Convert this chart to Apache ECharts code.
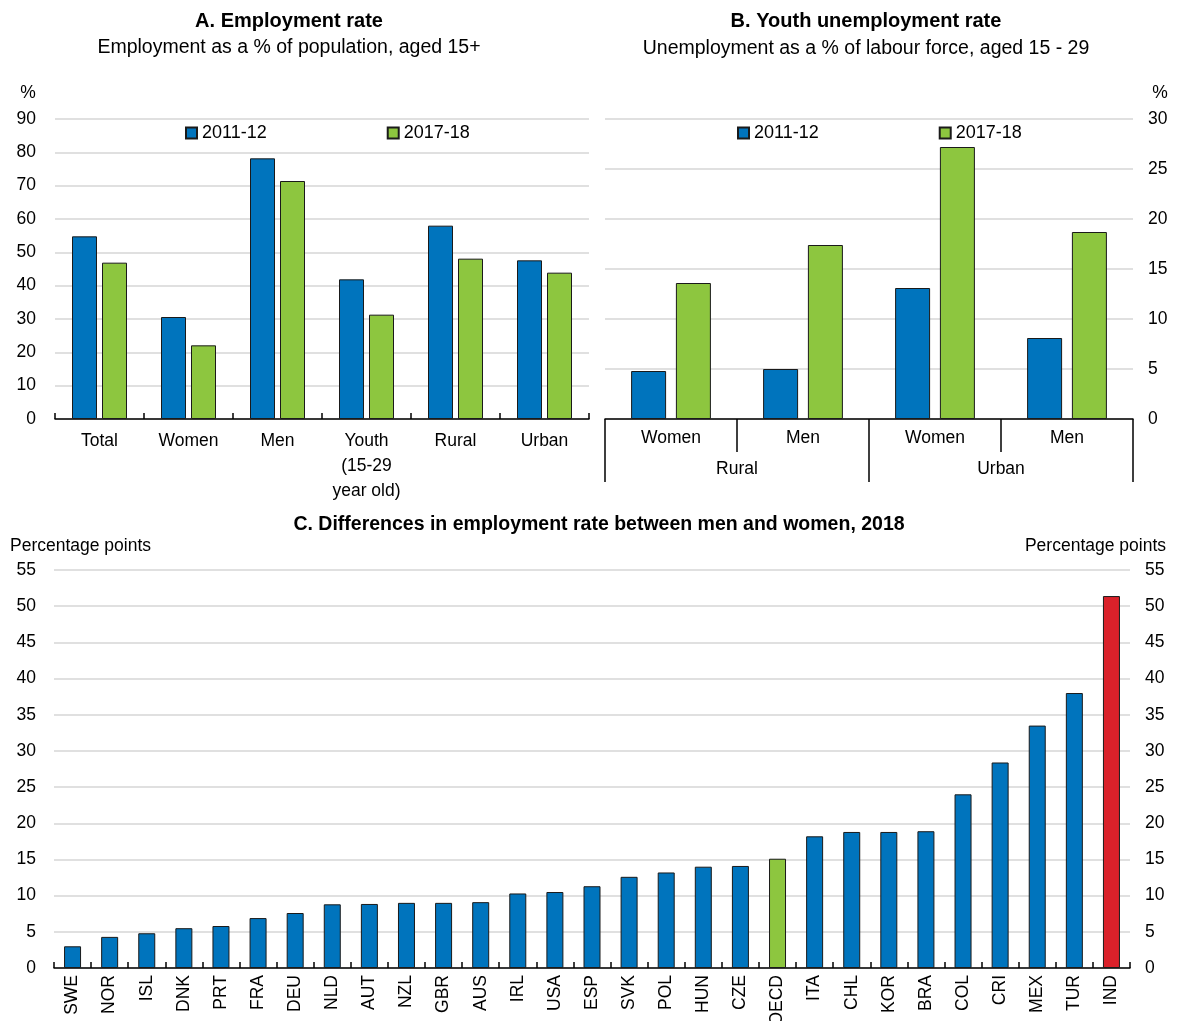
<!DOCTYPE html>
<html>
<head>
<meta charset="utf-8">
<script src="https://cdn.jsdelivr.net/npm/echarts@6/dist/echarts.min.js"></script>
<style>html,body{margin:0;padding:0;background:#fff}#c{width:1177px;height:1021px}</style>
</head>
<body>
<div id="c"></div>
<script>
// ---- Data ----
var seriesNames = ['2011-12', '2017-18'];

var catsA = ['Total', 'Women', 'Men', 'Youth\n(15-29\nyear old)', 'Rural', 'Urban'];
var empl2011 = [54.8, 30.6, 78.2, 41.9, 58.0, 47.6];
var empl2017 = [46.9, 22.1, 71.4, 31.3, 48.1, 43.9];
var ticksA = [0, 10, 20, 30, 40, 50, 60, 70, 80, 90];

var catsB = ['Women', 'Men', 'Women', 'Men'];
var groupsB = ['Rural', 'Urban'];
var youth2011 = [4.8, 5.0, 13.1, 8.1];
var youth2017 = [13.6, 17.4, 27.2, 18.7];
var ticksB = [0, 5, 10, 15, 20, 25, 30];

var countriesC = ['SWE','NOR','ISL','DNK','PRT','FRA','DEU','NLD','AUT','NZL','GBR','AUS','IRL','USA','ESP',
                  'SVK','POL','HUN','CZE','OECD','ITA','CHL','KOR','BRA','COL','CRI','MEX','TUR','IND'];
var gapC = [3.0, 4.3, 4.8, 5.5, 5.8, 6.9, 7.6, 8.8, 8.85, 9.0, 9.0, 9.1, 10.3, 10.5, 11.3,
            12.6, 13.2, 14.0, 14.1, 15.1, 18.2, 18.8, 18.8, 18.9, 24.0, 28.4, 33.5, 38.0, 51.4];
var ticksC = [0, 5, 10, 15, 20, 25, 30, 35, 40, 45, 50, 55];

// ---- Style ----
var BLUE = '#0074BD', GREEN = '#8DC63F', RED = '#DA212A', EDGE = '#1a1a1a';
var FONT = "'Liberation Sans', Arial, sans-serif";
var FS = 17.5;
var gridLine = {show: true, lineStyle: {color: '#d6d6d6', width: 1.5}};
var blackLine = {show: true, lineStyle: {color: '#000', width: 1.5}};
var lbl = {color: '#000', fontFamily: FONT, fontSize: FS};

function valAxis(grid, ticks, pos, margin) {
  return {
    type: 'value', gridIndex: grid, position: pos,
    min: ticks[0], max: ticks[ticks.length - 1], interval: ticks[1] - ticks[0],
    axisLine: {show: false}, axisTick: {show: false},
    splitLine: gridLine,
    axisLabel: Object.assign({margin: margin}, lbl, pos === 'right' ? {align: 'left'} : {})
  };
}

var chart = echarts.init(document.getElementById('c'), null, {renderer: 'canvas'});

var cData = countriesC.map(function (c, i) {
  var col = c === 'OECD' ? GREEN : (c === 'IND' ? RED : BLUE);
  return {value: gapC[i], itemStyle: {color: col}};
});

var legendText = {fontFamily: FONT, fontSize: 18, color: '#000'};

var option = {
  animation: false,
  backgroundColor: '#fff',
  textStyle: {fontFamily: FONT},
  grid: [
    {left: 55, top: 119, width: 534, height: 300, outerBoundsMode: 'none', containLabel: false},
    {left: 605, top: 119, width: 528, height: 300, outerBoundsMode: 'none', containLabel: false},
    {left: 54, top: 570, width: 1076, height: 398, outerBoundsMode: 'none', containLabel: false}
  ],
  legend: [
    {data: seriesNames, left: 185, top: 124, padding: 0, icon: 'rect', itemWidth: 11, itemHeight: 11, itemGap: 120, itemTextGap: 4,
     textStyle: legendText, selectedMode: false},
    {data: seriesNames, left: 737, top: 124, padding: 0, icon: 'rect', itemWidth: 11, itemHeight: 11, itemGap: 120, itemTextGap: 4,
     textStyle: legendText, selectedMode: false}
  ],
  xAxis: [
    {type: 'category', gridIndex: 0, data: catsA, axisLine: blackLine,
     axisTick: {show: true, inside: true, length: 6, lineStyle: {color: '#000', width: 1.5}},
     axisLabel: Object.assign({margin: 10, lineHeight: 25, interval: 0}, lbl)},
    {type: 'category', gridIndex: 1, data: catsB, axisLine: blackLine,
     axisTick: {show: true, length: 33, lineStyle: {color: '#000', width: 1.5}},
     axisLabel: Object.assign({margin: 10, interval: 0}, lbl)},
    {type: 'category', gridIndex: 1, data: groupsB, position: 'bottom', axisLine: {show: false},
     axisTick: {show: true, length: 63, lineStyle: {color: '#000', width: 1.5}},
     axisLabel: Object.assign({margin: 41, interval: 0}, lbl)},
    {type: 'category', gridIndex: 2, data: countriesC, axisLine: blackLine,
     axisTick: {show: true, inside: true, length: 6, lineStyle: {color: '#000', width: 1.5}},
     axisLabel: Object.assign({margin: 7, rotate: 90, interval: 0}, lbl)}
  ],
  yAxis: [
    valAxis(0, ticksA, 'left', 19),
    valAxis(1, ticksB, 'right', 15),
    valAxis(2, ticksC, 'left', 18),
    Object.assign(valAxis(2, ticksC, 'right', 15), {splitLine: {show: false}})
  ],
  series: [
    {name: seriesNames[0], type: 'bar', xAxisIndex: 0, yAxisIndex: 0, data: empl2011, barWidth: 25, barGap: '20%',
     itemStyle: {color: BLUE, borderColor: EDGE, borderWidth: 1}},
    {name: seriesNames[1], type: 'bar', xAxisIndex: 0, yAxisIndex: 0, data: empl2017, barWidth: 25, barGap: '20%',
     itemStyle: {color: GREEN, borderColor: EDGE, borderWidth: 1}},
    {name: seriesNames[0], type: 'bar', xAxisIndex: 1, yAxisIndex: 1, data: youth2011, barWidth: 35, barGap: '28%',
     itemStyle: {color: BLUE, borderColor: EDGE, borderWidth: 1}},
    {name: seriesNames[1], type: 'bar', xAxisIndex: 1, yAxisIndex: 1, data: youth2017, barWidth: 35, barGap: '28%',
     itemStyle: {color: GREEN, borderColor: EDGE, borderWidth: 1}},
    {name: 'Gap', type: 'bar', xAxisIndex: 3, yAxisIndex: 2, data: cData, barWidth: 17,
     itemStyle: {borderColor: EDGE, borderWidth: 1}}
  ],
  graphic: [
    {type: 'text', x: 289, y: 21, style: {text: 'A. Employment rate', font: 'bold 20px ' + FONT, fill: '#000', align: 'center', verticalAlign: 'middle'}},
    {type: 'text', x: 289, y: 48, style: {text: 'Employment as a % of population, aged 15+', font: '19.5px ' + FONT, fill: '#000', align: 'center', verticalAlign: 'middle'}},
    {type: 'text', x: 866, y: 21, style: {text: 'B. Youth unemployment rate', font: 'bold 20px ' + FONT, fill: '#000', align: 'center', verticalAlign: 'middle'}},
    {type: 'text', x: 866, y: 49, style: {text: 'Unemployment as a % of labour force, aged 15 - 29', font: '19.5px ' + FONT, fill: '#000', align: 'center', verticalAlign: 'middle'}},
    {type: 'text', x: 28, y: 93, style: {text: '%', font: FS + 'px ' + FONT, fill: '#000', align: 'center', verticalAlign: 'middle'}},
    {type: 'text', x: 1160, y: 93, style: {text: '%', font: FS + 'px ' + FONT, fill: '#000', align: 'center', verticalAlign: 'middle'}},
    {type: 'text', x: 599, y: 525, style: {text: 'C. Differences in employment rate between men and women, 2018', font: 'bold 19.5px ' + FONT, fill: '#000', align: 'center', verticalAlign: 'middle'}},
    {type: 'text', x: 10, y: 546, style: {text: 'Percentage points', font: FS + 'px ' + FONT, fill: '#000', align: 'left', verticalAlign: 'middle'}},
    {type: 'text', x: 1166, y: 546, style: {text: 'Percentage points', font: FS + 'px ' + FONT, fill: '#000', align: 'right', verticalAlign: 'middle'}}
  ]
};
chart.setOption(option);
</script>
</body>
</html>
